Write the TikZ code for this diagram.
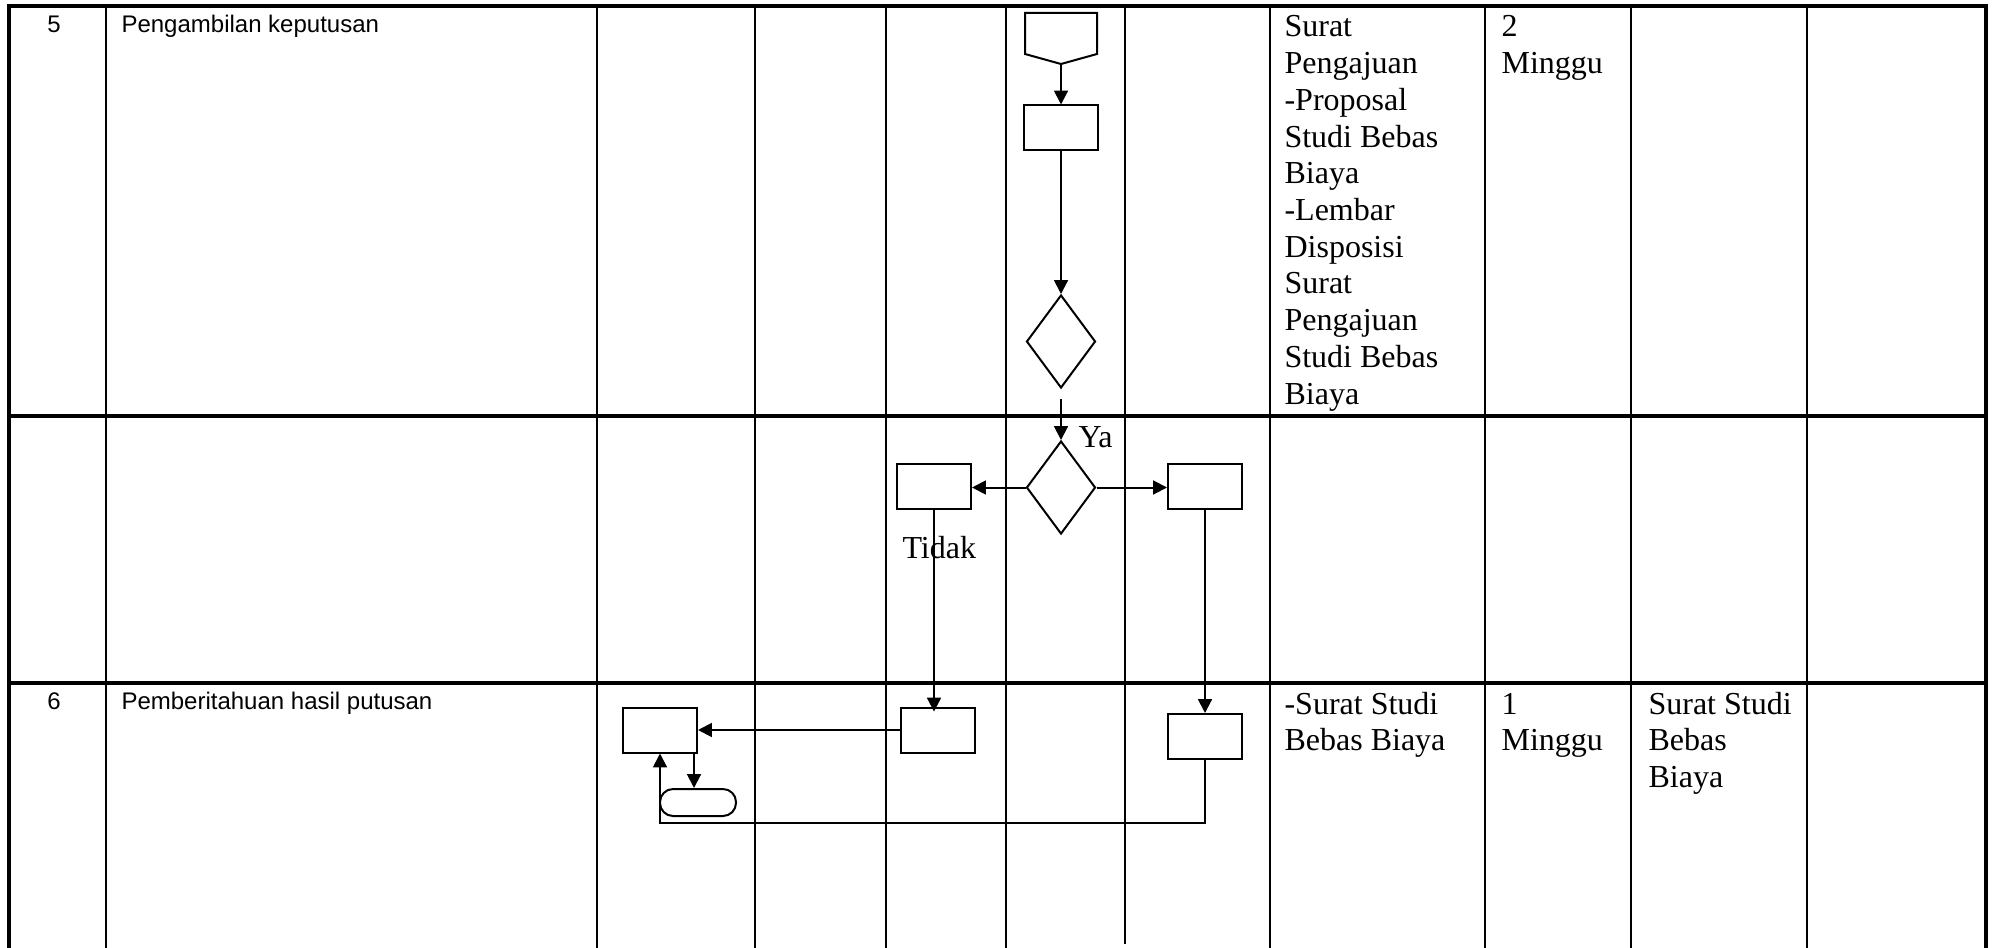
\documentclass[tikz,border=0pt]{standalone}
\usepackage{fontspec}
\setmainfont{Liberation Serif}
\newfontfamily\arialf{Liberation Sans}
\usetikzlibrary{shapes.geometric,arrows.meta,calc}
\begin{document}
\begin{tikzpicture}[x=0.375pt,y=-0.375pt,
  thickrule/.style={line width=1.6pt},
  thinrule/.style={line width=0.75pt},
  box/.style={draw,line width=0.75pt,minimum width=27.75pt,minimum height=16.875pt,inner sep=0pt},
  dec/.style={draw,diamond,line width=0.75pt,minimum width=25.875pt,minimum height=34.875pt,inner sep=0pt},
  term/.style={draw,rectangle,rounded corners=4.9pt,line width=0.75pt,minimum width=28.5pt,minimum height=10.125pt,inner sep=0pt},
  flow/.style={line width=0.75pt,-{Triangle[length=5.2pt,width=5.2pt]}},
  tnr/.style={font=\fontsize{12pt}{13.8pt}\selectfont,inner sep=0pt,anchor=base west},
  ari/.style={font=\arialf\fontsize{9pt}{11pt}\selectfont,inner sep=0pt,anchor=base west},
]
\useasboundingbox (0,0) rectangle (1993,948);
% grid
\foreach \xx in {106,597,755,886,1006,1270,1485,1631,1807}
  \draw[thinrule] (\xx,6) -- (\xx,948);
\draw[thinrule] (1125,6) -- (1125,944);
\draw[thickrule] (9,4) -- (9,948);
\draw[thickrule] (1986,4) -- (1986,948);
\draw[thickrule] (7,6) -- (1988,6);
\draw[thickrule] (7,416) -- (1988,416);
\draw[thickrule] (7,683) -- (1988,683);
% shapes
\node[inner sep=0pt,outer sep=0pt,minimum width=27pt,minimum height=19.125pt] (off) at (1061,38.5) {};
\draw[line width=0.75pt] (off.north west) -- (off.north east) -- ($(off.south east)+(0,-10)$) -- (off.south) -- ($(off.south west)+(0,-10)$) -- cycle;
\node[box] (r1) at (1061,128) {};
\node[dec] (d1) at (1061,341.5) {};
\coordinate (g1) at (1061,399);
\node[dec] (d2) at (1061,487.5) {};
\node[box] (rl) at (934,486) {};
\node[box] (rr) at (1205,486) {};
\node[box] (r6a) at (938,730) {};
\node[box] (r6b) at (1205,736.5) {};
\node[box] (r6c) at (660,730) {};
\node[term] (t6) at (698,802.5) {};
\coordinate (ret) at (660,823);
\coordinate (c6) at ($(r6c.south east)+(-4,0)$);
% connectors
\draw[flow] (off.south) -- (r1.north);
\draw[flow] (r1.south) -- (d1.north);
\draw[flow] (g1) -- (d2.north);
\draw[flow] (d2.west) -- (rl.east |- d2.west);
\draw[flow] (d2.east) -- (rr.west |- d2.east);
\draw[flow,shorten >=-1.9pt] (rl.south) -- (rl.south |- r6a.north);
\draw[flow] (rr.south) -- (r6b.north);
\draw[flow] (r6a.west) -- (r6c.east);
\draw[flow] (c6) -- (c6 |- t6.north);
\draw[flow] (r6b.south) |- (ret) -- (r6c.south);
% labels
\node[tnr] (ya) at (1078,447) {Ya};
\node[tnr] (tidak) at (902,558) {Tidak};
\node[ari,anchor=base] (n5) at (54,33) {5};
\node[ari] (a5) at (121,33) {Pengambilan keputusan};
\node[ari,anchor=base] (n6) at (54,709) {6};
\node[ari] (a6) at (121,709) {Pemberitahuan hasil putusan};
\foreach \t [count=\i from 0] in {Surat,Pengajuan,-Proposal,Studi Bebas,Biaya,-Lembar,Disposisi,Surat,Pengajuan,Studi Bebas,Biaya}
  \node[tnr] (s5-\i) at (1284,{37+36.7*\i}) {\t};
\node[tnr] (w5a) at (1501,37) {2};
\node[tnr] (w5b) at (1501,73.7) {Minggu};
\node[tnr] (s6a) at (1284,714) {-Surat Studi};
\node[tnr] (s6b) at (1284,750.7) {Bebas Biaya};
\node[tnr] (w6a) at (1501,714) {1};
\node[tnr] (w6b) at (1501,750.7) {Minggu};
\node[tnr] (o6a) at (1648,714) {Surat Studi};
\node[tnr] (o6b) at (1648,750.7) {Bebas};
\node[tnr] (o6c) at (1648,787.4) {Biaya};
\end{tikzpicture}
\end{document}
